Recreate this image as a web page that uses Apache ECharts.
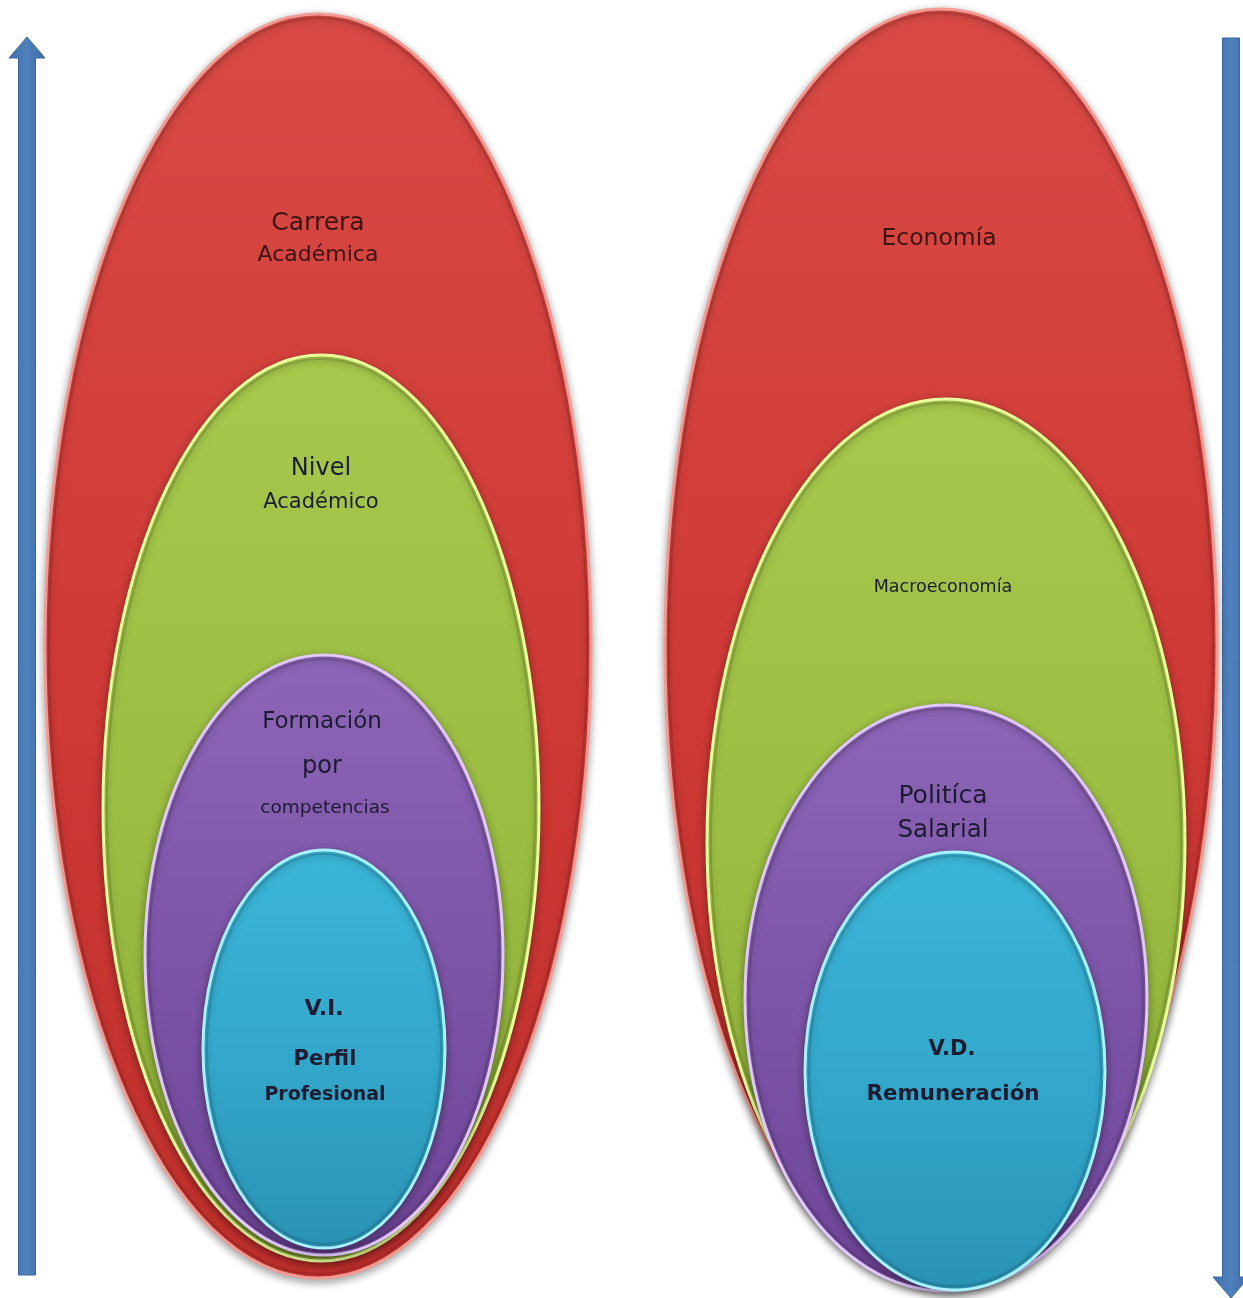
<!DOCTYPE html>
<html>
<head>
<meta charset="utf-8">
<script src="https://cdn.jsdelivr.net/npm/echarts@6/dist/echarts.min.js"></script>
<style>
html,body{margin:0;padding:0;background:#fff;}
#chart{width:1243px;height:1298px;}
</style>
</head>
<body>
<div id="chart"></div>
<script>
// ---- data (diagram units = reference pixels) ----
const ellipseNames = ['Carrera Académica','Nivel Académico','Formación por competencias','V.I. Perfil Profesional',
                      'Economía','Macroeconomía','Politíca Salarial','V.D. Remuneración'];
const ellipseLayer = [0,1,2,3,0,1,2,3];
const ellipseCx = [318,321,324,324, 941,946,946,955];
const ellipseCy = [646,808,955,1049, 647,842,998,1071];
const ellipseRx = [273,218,179,121, 276,239,201,150];
const ellipseRy = [632,453,300,199, 638,443,293,219];

const labelText = ['Carrera','Académica','Nivel','Académico','Formación','por','competencias',
                   'V.I.','Perfil','Profesional',
                   'Economía','Macroeconomía','Politíca','Salarial','V.D.','Remuneración'];
const labelX = [318,318,321,321,322,322,325, 324,325,325, 939,943,943,943,952,953];
const labelY = [223,255,469,503,722,767,808, 1009,1060,1095, 239,587,796,831,1050,1094];

const arrowX = [27,1231];
const arrowFrom = [1275,38];
const arrowTo = [37,1298];

// ---- styles ----
const fills = [
  ['#d94a45','#cf3a36','#c0302d'],
  ['#a6c84c','#9bbd42','#8dae38'],
  ['#8d66b8','#7d55a8','#6e4597'],
  ['#3bb6d8','#33a8cc','#2a93b5']
];
const rims = ['#f39a92','#eaff9c','#e3c8ff','#a9f2ff'];
const labelSize = [25,22,24,21,23,24,18.5, 22,21,19, 23.5,17.5,25,24.5,21,21.4];
const labelBold = [0,0,0,0,0,0,0, 1,1,1, 0,0,0,0,1,1];

const chart = echarts.init(document.getElementById('chart'), null, {renderer:'canvas'});

const ellipseData = ellipseCx.map((cx,i)=>[cx, ellipseCy[i], ellipseRx[i], ellipseRy[i], ellipseLayer[i]]);
const labelData = labelText.map((t,i)=>[labelX[i], labelY[i], i]);
const arrowData = arrowX.map((x,i)=>[x, arrowFrom[i], arrowTo[i]]);

chart.setOption({
  animation:false,
  backgroundColor:'#ffffff',
  grid:{left:0,right:0,top:0,bottom:0},
  xAxis:{type:'value',min:0,max:1243,show:false},
  yAxis:{type:'value',min:0,max:1298,inverse:true,show:false},
  series:[
    {
      type:'custom', name:'Arrows', coordinateSystem:'cartesian2d', z:1,
      data:arrowData,
      renderItem:function(params, api){
        const p0 = api.coord([api.value(0), api.value(1)]);
        const p1 = api.coord([api.value(0), api.value(2)]);
        const dir = p1[1] < p0[1] ? -1 : 1;
        const half = api.size([8.5,0])[0];
        const headHalf = api.size([18,0])[0];
        const headLen = api.size([0,21])[1];
        const x = p0[0];
        const baseY = p1[1] - dir*headLen;
        const pts = [
          [x-half, p0[1]], [x+half, p0[1]], [x+half, baseY], [x+headHalf, baseY],
          [x, p1[1]], [x-headHalf, baseY], [x-half, baseY]
        ];
        return {type:'polygon', shape:{points:pts},
          style:{fill:new echarts.graphic.LinearGradient(0,0,1,0,[
            {offset:0,color:'#3f6fae'},{offset:0.5,color:'#4f81bd'},{offset:1,color:'#3c6aa6'}]),
            stroke:'#3a669f', lineWidth:1}};
      }
    },
    {
      type:'custom', name:'Ellipses', coordinateSystem:'cartesian2d', z:2,
      data:ellipseData,
      renderItem:function(params, api){
        const c = api.coord([api.value(0), api.value(1)]);
        const s = api.size([api.value(2), api.value(3)]);
        const L = api.value(4);
        const f = fills[L];
        return {type:'group', children:[
          {type:'ellipse', shape:{cx:c[0], cy:c[1], rx:s[0], ry:s[1]},
            style:{
              fill:new echarts.graphic.LinearGradient(0,0,0,1,[
                {offset:0,color:f[0]},{offset:0.5,color:f[1]},{offset:1,color:f[2]}]),
              stroke:rims[L], lineWidth:3,
              shadowBlur:8, shadowColor:'rgba(0,0,0,0.35)', shadowOffsetY:3
            }},
          {type:'ellipse', shape:{cx:c[0], cy:c[1], rx:s[0]-4, ry:s[1]-4},
            style:{fill:'none', stroke:'rgba(0,0,0,0.12)', lineWidth:2}}
        ]};
      }
    },
    {
      type:'custom', name:'Labels', coordinateSystem:'cartesian2d', z:3,
      data:labelData,
      renderItem:function(params, api){
        const c = api.coord([api.value(0), api.value(1)]);
        const i = api.value(2);
        return {type:'text', style:{
          text:labelText[i], x:c[0], y:c[1], align:'center', verticalAlign:'middle',
          fontFamily:'"DejaVu Sans", Verdana, sans-serif', fontSize:labelSize[i],
          fontWeight:labelBold[i] ? 'bold' : 'normal',
          fill: i < 2 || i === 10 ? '#3a1414' : '#1c1c30'
        }};
      }
    }
  ]
});
</script>
</body>
</html>
